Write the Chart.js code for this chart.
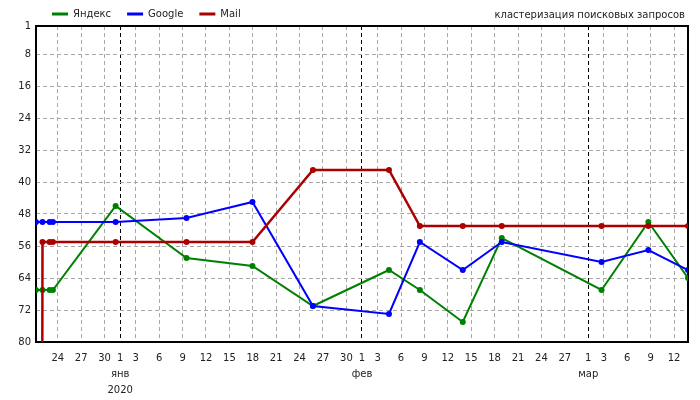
<!DOCTYPE html>
<html><head><meta charset="utf-8">
<script src="https://cdn.jsdelivr.net/npm/chart.js@4.4.1/dist/chart.umd.min.js"></script>
<style>
html,body{margin:0;padding:0;background:#fff;}
#wrap{position:relative;width:700px;height:400px;}
#title{position:absolute;right:15px;top:9px;font:10px "DejaVu Sans";line-height:12px;color:#222;white-space:nowrap;}
</style></head><body>
<div id="wrap"><canvas id="c"></canvas><div id="title">кластеризация поисковых запросов</div></div>
<script>
// ---- data ----
const dates = ["2019-12-21T05:00","2019-12-22T01:00","2019-12-22T23:00","2019-12-23T09:00","2019-12-31T10:00",
  "2020-01-09T12:00","2020-01-17T23:00","2020-01-25T17:00","2020-02-04T11:00","2020-02-08T10:00",
  "2020-02-13T22:00","2020-02-18T22:00","2020-03-02T17:00","2020-03-08T17:00","2020-03-13T19:00"];
const yandex = [67,67,67,67,46,59,61,71,62,67,75,54,67,50,64];
const google = [50,50,50,50,50,49,45,71,73,55,62,55,60,57,62];
const mail   = [1000,55,55,55,55,55,55,37,37,51,51,51,51,51,51]; // first value: not ranked (below the chart)
const seriesNames = ["Яндекс","Google","Mail"];
const seriesColors = ["#008000","#0000ff","#aa0000"];
const tickDates = ["2019-12-24","2019-12-27","2019-12-30","2020-01-01","2020-01-03","2020-01-06","2020-01-09",
  "2020-01-12","2020-01-15","2020-01-18","2020-01-21","2020-01-24","2020-01-27","2020-01-30","2020-02-01",
  "2020-02-03","2020-02-06","2020-02-09","2020-02-12","2020-02-15","2020-02-18","2020-02-21","2020-02-24",
  "2020-02-27","2020-03-01","2020-03-03","2020-03-06","2020-03-09","2020-03-12"];
const monthStarts = ["2020-01-01","2020-02-01","2020-03-01"];
const monthNames = ["янв","фев","мар"];
const yearLabel = "2020";
const yTicks = [1,8,16,24,32,40,48,56,64,72,80];
const chartTitle = "кластеризация поисковых запросов";

// ---- helpers ----
const BASE = Date.UTC(2020,0,1);
const toDay = s => (Date.parse((s.length === 10 ? s + "T00:00" : s) + ":00Z") - BASE) / 86400000;
const xs = dates.map(toDay);
const tickX = tickDates.map(toDay);
const monthX = monthStarts.map(toDay);
const tickLabels = tickDates.map((d, i) => {
  const day = String(parseInt(d.slice(8), 10));
  const m = monthStarts.indexOf(d);
  if (m < 0) return day;
  return m === 0 ? [day, monthNames[m], yearLabel] : [day, monthNames[m]];
});
document.getElementById('title').textContent = chartTitle;

const frame = {
  id: 'frame',
  afterLayout(chart) {
    // legend starts in line with the plot's left edge
    if (chart.legend) chart.legend.left = chart.chartArea.left;
  },
  beforeDatasetsDraw(chart) {
    const {ctx, chartArea: a} = chart;
    ctx.save();
    ctx.strokeStyle = '#000';
    ctx.lineWidth = 2;
    ctx.setLineDash([]);
    ctx.strokeRect(a.left, a.top, a.right - a.left, a.bottom - a.top);
    ctx.restore();
  }
};

Chart.defaults.font.family = "DejaVu Sans";
Chart.defaults.font.size = 10;
Chart.defaults.color = '#222';

const series = [yandex, google, mail];
const widths = [2, 2, 2.5];
new Chart(document.getElementById('c'), {
  type: 'line',
  data: {
    datasets: series.map((vals, i) => ({
      label: seriesNames[i],
      data: vals.map((v, j) => ({x: xs[j], y: v})),
      borderColor: seriesColors[i],
      backgroundColor: seriesColors[i],
      borderWidth: widths[i],
      pointRadius: 3,
      pointBorderWidth: 0,
      pointBackgroundColor: seriesColors[i],
      tension: 0,
      order: 3 - i
    }))
  },
  options: {
    responsive: true,
    maintainAspectRatio: false,
    animation: false,
    layout: {padding: {left: 0, right: 12, top: -7, bottom: 0}},
    plugins: {
      tooltip: {enabled: false},
      legend: {
        position: 'top', align: 'start', maxHeight: 33,
        labels: {
          boxWidth: 16, boxHeight: 3, padding: 16,
          font: {size: 10},
          sort: (a, b) => a.datasetIndex - b.datasetIndex,
          generateLabels: chart => chart.data.datasets.map((ds, i) => ({
            text: ds.label, fillStyle: ds.borderColor, strokeStyle: ds.borderColor,
            lineWidth: 0, hidden: false, datasetIndex: i, fontColor: '#222'
          }))
        }
      }
    },
    scales: {
      x: {
        type: 'linear',
        min: xs[0], max: xs[xs.length - 1],
        afterBuildTicks: s => { s.ticks = tickX.map(v => ({value: v})); },
        afterFit: s => { s.height = 58; },
        ticks: {
          autoSkip: false, maxRotation: 0, minRotation: 0, padding: 8,
          font: {size: 10, lineHeight: 1.6},
          callback: (v, i) => tickLabels[i]
        },
        grid: {
          drawTicks: false,
          color: c => (c.tick && monthX.includes(c.tick.value)) ? '#000' : '#a8a8a8',
          lineWidth: 1
        },
        border: {display: false, dash: [4, 3]}
      },
      y: {
        type: 'linear',
        min: 1, max: 80, reverse: true,
        afterBuildTicks: s => { s.ticks = yTicks.map(v => ({value: v})); },
        afterFit: s => { s.width = 36; },
        ticks: {padding: 5, font: {size: 10}, callback: v => String(v)},
        grid: {drawTicks: false, color: '#a8a8a8', lineWidth: 1},
        border: {display: false, dash: [4, 3]}
      }
    }
  },
  plugins: [frame]
});
</script>
</body></html>
